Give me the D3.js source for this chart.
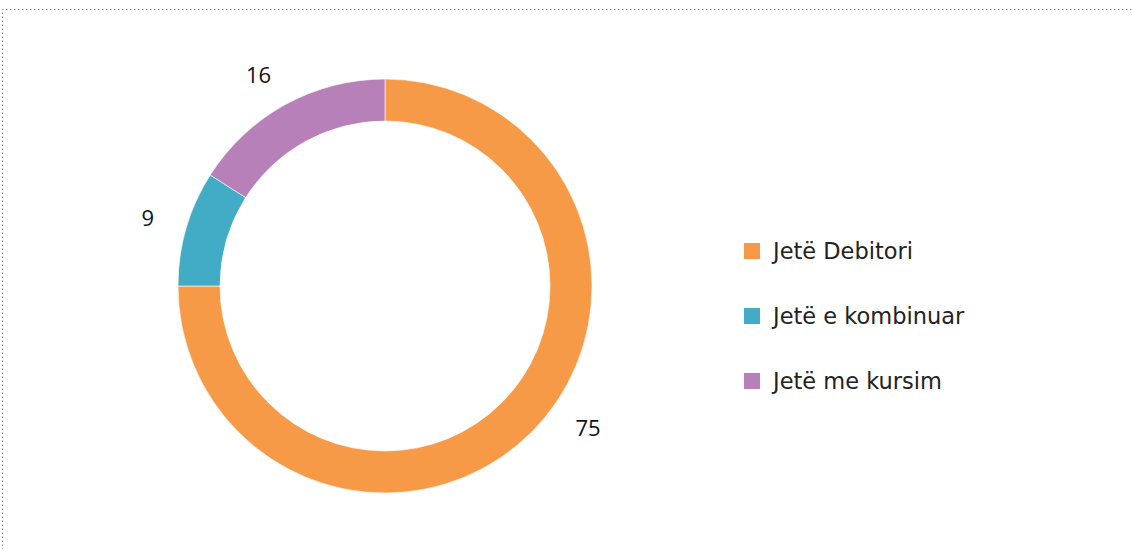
<!DOCTYPE html>
<html>
<head>
<meta charset="utf-8">
<script src="https://cdn.jsdelivr.net/npm/d3@7"></script>
<style>
  html, body { margin: 0; padding: 0; background: #fff; overflow: hidden; }
  #chart { width: 1132px; height: 549px; }
  svg { display: block; }
</style>
</head>
<body>
<div id="chart"></div>
<script>
// values
var categories = ["Jetë Debitori", "Jetë e kombinuar", "Jetë me kursim"];
var values = [75, 9, 16];
var colors = ["#F79A48", "#42ACC6", "#B880B9"];

var width = 1132, height = 549;
var cx = 385, cy = 286;
var outerR = 207, innerR = 165, labelR = 247;

var svg = d3.select("#chart").append("svg")
    .attr("width", width)
    .attr("height", height);

// dotted frame (only top and left show inside the window)
svg.append("path")
    .attr("d", "M2.5," + (height + 5) + "V9.5H" + (width + 5))
    .attr("fill", "none")
    .attr("stroke", "#8a8a8a")
    .attr("stroke-width", 1)
    .attr("stroke-dasharray", "1.5,2.5");

var data = categories.map(function(c, i) { return {name: c, value: values[i], color: colors[i]}; });

var pie = d3.pie().value(function(d) { return d.value; }).sort(null);
var arc = d3.arc().innerRadius(innerR).outerRadius(outerR);

var g = svg.append("g").attr("transform", "translate(" + cx + "," + cy + ")");
var slices = pie(data);

g.selectAll("path.slice")
    .data(slices)
    .enter()
    .append("path")
    .attr("class", "slice")
    .attr("d", arc)
    .attr("fill", function(d) { return d.data.color; })
    .attr("stroke", "#fff")
    .attr("stroke-width", 0.6);

// excel doesn't put labels exactly on the mid angle
var labelNudge = [-0.18, 0, -0.035];

g.selectAll("text.lbl")
    .data(slices)
    .enter()
    .append("text")
    .attr("class", "lbl")
    .attr("x", function(d, i) { var a = (d.startAngle + d.endAngle) / 2 + labelNudge[i]; return Math.sin(a) * labelR; })
    .attr("y", function(d, i) { var a = (d.startAngle + d.endAngle) / 2 + labelNudge[i]; return -Math.cos(a) * labelR; })
    .attr("text-anchor", "middle")
    .attr("dominant-baseline", "central")
    .style("font-family", "'Open Sans', sans-serif")
    .style("font-size", "22px")
    .style("fill", "#111")
    .text(function(d) { return d.data.value; });

// legend
var legend = svg.append("g").attr("transform", "translate(744,251)");
var item = legend.selectAll(".item")
    .data(data)
    .enter()
    .append("g")
    .attr("class", "item")
    .attr("transform", function(d, i) { return "translate(0," + (i * 65) + ")"; });

item.append("rect")
    .attr("x", 0).attr("y", -8)
    .attr("width", 16).attr("height", 16)
    .attr("fill", function(d) { return d.color; });

item.append("text")
    .attr("x", 29)
    .attr("y", 0)
    .attr("dominant-baseline", "central")
    .style("font-family", "'DejaVu Sans', sans-serif")
    .style("font-size", "22.5px")
    .style("fill", "#222")
    .text(function(d) { return d.name; });
</script>
</body>
</html>
